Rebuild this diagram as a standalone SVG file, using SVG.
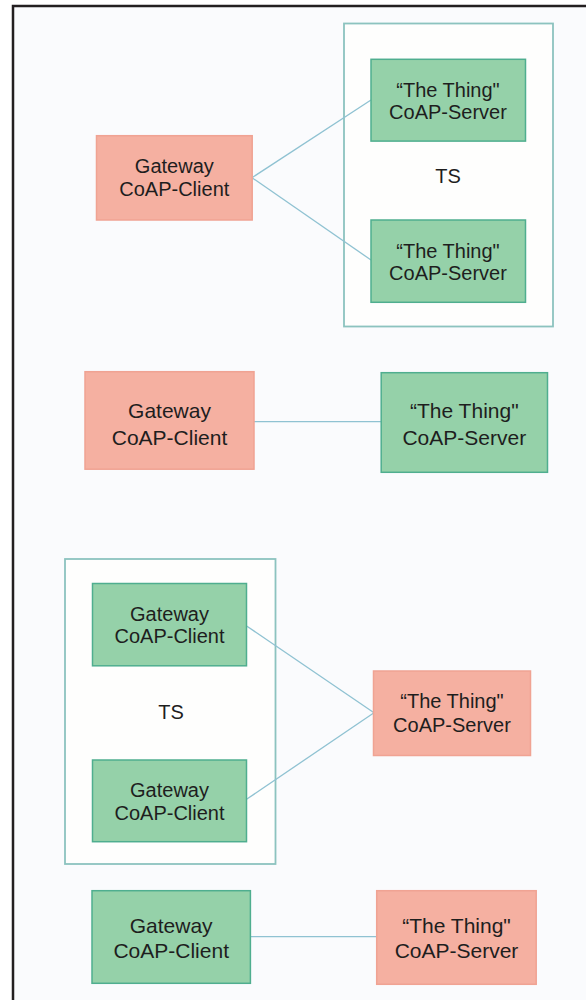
<svg xmlns="http://www.w3.org/2000/svg" width="586" height="1000" viewBox="0 0 586 1000">
<style>
text{font-family:"Liberation Sans",Arial,sans-serif;fill:#1e1e1e;text-anchor:middle}
.f20{font-size:20px}
.f21{font-size:21px}
.red{fill:#f5b0a1;stroke:#f0a393;stroke-width:1.5}
.grn{fill:#95d1a9;stroke:#4fae8f;stroke-width:1.5}
.ts{fill:#fefefd;stroke:#8cc3bf;stroke-width:1.8}
.con{stroke:#8fc2d2;stroke-width:1.3;fill:none}
</style>
<rect x="0" y="0" width="586" height="1000" fill="#ffffff"/>
<rect x="13" y="6" width="600" height="1010" fill="#fafbfd" stroke="#231f20" stroke-width="2.5"/>

<g id="ts1"><rect class="ts" x="344" y="23.5" width="209" height="303"/><text class="f20" x="448" y="183">TS</text></g>
<g id="ts2"><rect class="ts" x="65" y="559" width="210.5" height="305"/><text class="f20" x="171" y="719">TS</text></g>

<g id="connectors">
<line class="con" x1="252" y1="177.7" x2="371" y2="100"/>
<line class="con" x1="252" y1="177.7" x2="371" y2="260"/>
<line class="con" x1="254" y1="421.7" x2="381" y2="421.7"/>
<line class="con" x1="246.6" y1="626" x2="374" y2="712.7"/>
<line class="con" x1="246.6" y1="799.3" x2="374" y2="712.7"/>
<line class="con" x1="250.4" y1="936.7" x2="376.7" y2="936.7"/>
</g>

<g id="gw1"><rect class="red" x="96.5" y="135.7" width="155.7" height="84.3"/><text class="f20" x="174.3" y="173.3">Gateway</text><text class="f20" x="174.3" y="195.7">CoAP-Client</text></g>
<g id="srv1a"><rect class="grn" x="371" y="59.3" width="154.5" height="81.8"/><text class="f20" x="448" y="96.7">“The Thing"</text><text class="f20" x="448" y="119.3">CoAP-Server</text></g>
<g id="srv1b"><rect class="grn" x="371" y="220" width="154.5" height="82.3"/><text class="f20" x="448" y="257.5">“The Thing"</text><text class="f20" x="448" y="280">CoAP-Server</text></g>

<g id="gw2"><rect class="red" x="85" y="371.7" width="169" height="97.5"/><text class="f21" x="169.5" y="418.3">Gateway</text><text class="f21" x="169.5" y="445">CoAP-Client</text></g>
<g id="srv2"><rect class="grn" x="381.2" y="372.7" width="166.3" height="99.6"/><text class="f21" x="464.3" y="418.3">“The Thing"</text><text class="f21" x="464.3" y="445">CoAP-Server</text></g>

<g id="gw3a"><rect class="grn" x="92.5" y="583.5" width="154" height="82.3"/><text class="f20" x="169.5" y="621">Gateway</text><text class="f20" x="169.5" y="643.3">CoAP-Client</text></g>
<g id="gw3b"><rect class="grn" x="92.5" y="760" width="154" height="81.7"/><text class="f20" x="169.5" y="797">Gateway</text><text class="f20" x="169.5" y="819.5">CoAP-Client</text></g>
<g id="srv3"><rect class="red" x="373.5" y="671" width="157" height="84.5"/><text class="f20" x="452" y="708.3">“The Thing"</text><text class="f20" x="452" y="731.7">CoAP-Server</text></g>

<g id="gw4"><rect class="grn" x="92" y="890.7" width="158.4" height="92.6"/><text class="f21" x="171.2" y="933">Gateway</text><text class="f21" x="171.2" y="958">CoAP-Client</text></g>
<g id="srv4"><rect class="red" x="376.7" y="890.7" width="159.5" height="93.6"/><text class="f21" x="456.5" y="933">“The Thing"</text><text class="f21" x="456.5" y="958">CoAP-Server</text></g>
</svg>
